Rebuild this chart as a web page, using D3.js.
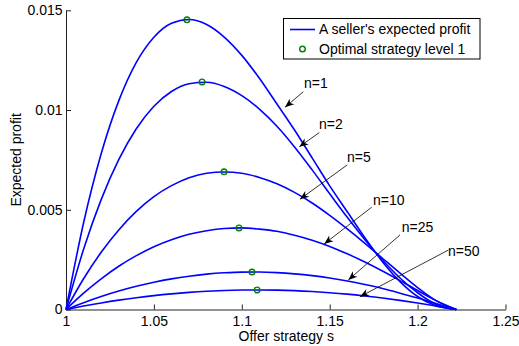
<!DOCTYPE html>
<html>
<head>
<meta charset="utf-8">
<script src="https://cdn.jsdelivr.net/npm/d3@7"></script>
<style>
  html, body { margin: 0; padding: 0; background: #fff; }
  svg { display: block; font-family: "Liberation Sans", Arial, Helvetica, sans-serif; }
</style>
</head>
<body>
<svg id="chart" width="519" height="346"></svg>
<script>
// Offer strategy grid (s)
const offerStrategy = [1.00, 1.01, 1.02, 1.03, 1.04, 1.05, 1.06, 1.07, 1.08, 1.09, 1.10,
  1.11, 1.12, 1.13, 1.14, 1.15, 1.16, 1.17, 1.18, 1.19, 1.20, 1.21, 1.222];

// Expected profit of one seller for each number of competitors n
const profitN1 = [0, 0.00435, 0.00781, 0.01046, 0.01239, 0.01365, 0.01435, 0.01454, 0.01429, 0.01366, 0.01274,
  0.01159, 0.01030, 0.00900, 0.00760, 0.00620, 0.00490, 0.00360, 0.00240, 0.00140, 0.00065, 0.00020, 0];
const profitN2 = [0, 0.00302, 0.00551, 0.00751, 0.00906, 0.01019, 0.01093, 0.01132, 0.01139, 0.01118, 0.01072,
  0.01005, 0.00919, 0.00815, 0.00700, 0.00580, 0.00462, 0.00350, 0.00248, 0.00158, 0.00084, 0.00028, 0];
const profitN5 = [0, 0.00154, 0.00287, 0.00399, 0.00492, 0.00566, 0.00621, 0.00661, 0.00683, 0.00689, 0.00683,
  0.00662, 0.00630, 0.00587, 0.00534, 0.00472, 0.00404, 0.00332, 0.00257, 0.00182, 0.00110, 0.00047, 0];
const profitN10 = [0, 0.00082, 0.00154, 0.00217, 0.00270, 0.00315, 0.00350, 0.00377, 0.00395, 0.00406, 0.00409,
  0.00403, 0.00392, 0.00372, 0.00347, 0.00316, 0.00279, 0.00238, 0.00193, 0.00145, 0.00095, 0.00047, 0];
const profitN25 = [0, 0.000344, 0.000652, 0.000925, 0.001163, 0.001366, 0.001535, 0.001669, 0.001772, 0.001840, 0.001875,
  0.001877, 0.001849, 0.001787, 0.001697, 0.001575, 0.001426, 0.001249, 0.001050, 0.000818, 0.000572, 0.000308, 0];
const profitN50 = [0, 0.000173, 0.000329, 0.000469, 0.000591, 0.000697, 0.000785, 0.000857, 0.000912, 0.000951, 0.000974,
  0.000980, 0.000970, 0.000944, 0.000901, 0.000843, 0.000770, 0.000680, 0.000578, 0.000459, 0.000327, 0.000182, 0];

const seriesLabels = ["n=1", "n=2", "n=5", "n=10", "n=25", "n=50"];
const seriesValues = [profitN1, profitN2, profitN5, profitN10, profitN25, profitN50];

// Optimal strategy (level 1) for each n
const optimalS = [1.0688, 1.0774, 1.0899, 1.0984, 1.1058, 1.1087];
const optimalProfit = [0.01452, 0.01141, 0.00690, 0.00409, 0.00188, 0.00098];

// Tick values
const xTicks = [1, 1.05, 1.1, 1.15, 1.2, 1.25];
const yTicks = [0, 0.005, 0.01, 0.015];

// Text arrows: label anchor, arrow tail and arrow head in data units
const arrowLabelS = [1.1354, 1.1439, 1.1598, 1.1746, 1.1910, 1.2173];
const arrowLabelP = [0.01111, 0.00905, 0.00740, 0.00524, 0.00389, 0.00268];
const arrowTailS = [1.1350, 1.1441, 1.1600, 1.1739, 1.1900, 1.2175];
const arrowTailP = [0.01092, 0.00887, 0.00725, 0.00513, 0.00374, 0.00298];
const arrowHeadS = [1.1246, 1.1327, 1.1331, 1.1469, 1.1606, 1.1672];
const arrowHeadP = [0.01014, 0.00816, 0.00553, 0.00329, 0.00148, 0.00064];

const svg = d3.select("#chart");
const x = d3.scaleLinear().domain([1, 1.25]).range([66, 505.5]);
const y = d3.scaleLinear().domain([0, 0.015]).range([309.5, 10.3]);

const defs = svg.append("defs");
defs.append("marker")
  .attr("id", "head")
  .attr("viewBox", "-10 -5 11 10")
  .attr("refX", 0).attr("refY", 0)
  .attr("markerWidth", 11).attr("markerHeight", 10)
  .attr("markerUnits", "userSpaceOnUse")
  .attr("orient", "auto")
  .append("path")
  .attr("d", "M0,0 L-9,-3.6 L-6.5,0 L-9,3.6 Z")
  .attr("fill", "#000");

// Axes (ticks point inward, no box)
const xAxis = d3.axisBottom(x).tickValues(xTicks).tickFormat(d3.format("~g"))
  .tickSizeInner(-5).tickSizeOuter(0).tickPadding(7);
const yAxis = d3.axisLeft(y).tickValues(yTicks).tickFormat(d3.format("~g"))
  .tickSizeInner(-5).tickSizeOuter(0).tickPadding(3.5);

const gx = svg.append("g").attr("transform", "translate(0,309.5)").call(xAxis);
const gy = svg.append("g").attr("transform", "translate(66,0)").call(yAxis);
[gx, gy].forEach(g => {
  g.select(".domain").attr("stroke", "#222").attr("stroke-width", 1);
  g.selectAll(".tick line").attr("stroke", "#222").attr("stroke-width", 1);
  g.selectAll(".tick text").attr("fill", "#000").style("font-size", "14px")
    .style("font-family", "'Liberation Sans', Arial, sans-serif");
});

// Axis labels
svg.append("text")
  .attr("x", x(1.125) + 0.5).attr("y", 340.5)
  .attr("text-anchor", "middle").style("font-size", "14px")
  .text("Offer strategy s");
svg.append("text")
  .attr("transform", `translate(21,${(y(0) + y(0.015)) / 2}) rotate(-90)`)
  .attr("text-anchor", "middle").style("font-size", "14px")
  .text("Expected profit");

// Profit curves
const line = d3.line()
  .x((d, i) => x(offerStrategy[i]))
  .y(d => y(d))
  .curve(d3.curveMonotoneX);

svg.append("g").selectAll("path")
  .data(seriesValues)
  .join("path")
  .attr("d", line)
  .attr("fill", "none")
  .attr("stroke", "#0000ff")
  .attr("stroke-width", 1.6);

// Optimal strategy markers
svg.append("g").selectAll("circle")
  .data(optimalS)
  .join("circle")
  .attr("cx", d => x(d))
  .attr("cy", (d, i) => y(optimalProfit[i]))
  .attr("r", 2.8)
  .attr("fill", "none")
  .attr("stroke", "#008000")
  .attr("stroke-width", 1.4);

// Text arrows
const ann = svg.append("g");
seriesLabels.forEach((lab, i) => {
  ann.append("line")
    .attr("x1", x(arrowTailS[i])).attr("y1", y(arrowTailP[i]))
    .attr("x2", x(arrowHeadS[i])).attr("y2", y(arrowHeadP[i]))
    .attr("stroke", "#000").attr("stroke-width", 0.8)
    .attr("marker-end", "url(#head)");
  ann.append("text")
    .attr("x", x(arrowLabelS[i])).attr("y", y(arrowLabelP[i]))
    .style("font-size", "14px")
    .text(lab);
});

// Legend
const lg = svg.append("g");
lg.append("rect")
  .attr("x", 283.5).attr("y", 18.5).attr("width", 196.5).attr("height", 40.5)
  .attr("fill", "#fff").attr("stroke", "#000").attr("stroke-width", 1);
lg.append("line")
  .attr("x1", 290).attr("x2", 315).attr("y1", 29.5).attr("y2", 29.5)
  .attr("stroke", "#0000ff").attr("stroke-width", 1.6);
lg.append("text").attr("x", 319).attr("y", 34).style("font-size", "14px")
  .text("A seller's expected profit");
lg.append("circle")
  .attr("cx", 302.5).attr("cy", 49).attr("r", 2.8)
  .attr("fill", "none").attr("stroke", "#008000").attr("stroke-width", 1.4);
lg.append("text").attr("x", 319).attr("y", 54).style("font-size", "14px")
  .text("Optimal strategy level 1");
</script>
</body>
</html>
